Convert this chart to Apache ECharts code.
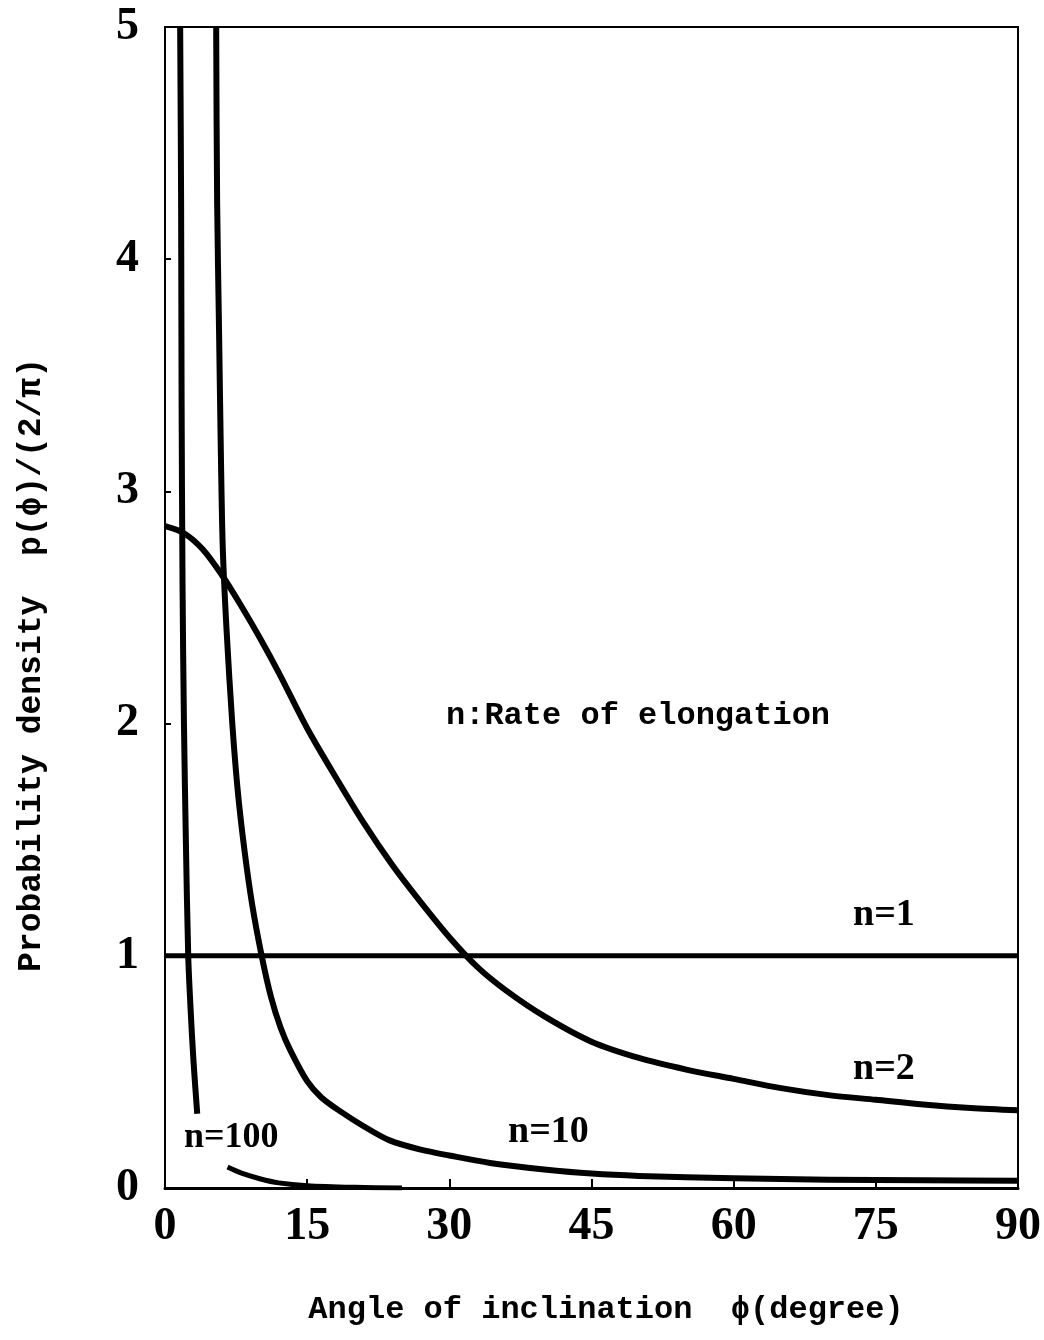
<!DOCTYPE html>
<html>
<head>
<meta charset="utf-8">
<title>Probability density of inclination angle</title>
<script src="https://cdn.jsdelivr.net/npm/echarts@6/dist/echarts.min.js"></script>
<style>
  html, body { margin: 0; padding: 0; background: #fff; }
  #chart { width: 1044px; height: 1340px; }
</style>
</head>
<body>
<div id="chart"></div>
<script>
// Angle of inclination (degree) and normalised density p(phi)/(2/pi) for each elongation rate n
var xTicks = [0, 15, 30, 45, 60, 75, 90];
var yTicks = [0, 1, 2, 3, 4, 5];

var phiN1 = [0, 90];
var valN1 = [1, 1];

var phiN2 = [0, 2, 4, 6, 8, 10, 12, 15, 18, 21, 24, 27, 30, 33, 36, 40, 45, 50, 55, 60, 65, 70, 75, 80, 85, 90];
var valN2 = [2.85, 2.82, 2.75, 2.64, 2.51, 2.37, 2.22, 1.98, 1.77, 1.57, 1.39, 1.23, 1.08, 0.95, 0.85, 0.74, 0.63, 0.56, 0.51, 0.47, 0.43, 0.40, 0.38, 0.36, 0.345, 0.335];

var phiN10 = [5.4, 5.5, 5.7, 5.9, 6.1, 6.5, 7.1, 7.7, 8.4, 9.2, 10.2, 11.2, 12.2, 13.2, 15, 16.5, 18.5, 21, 23.7, 27, 30, 34.3, 40, 45, 50, 60, 70, 80, 90];
var valN10 = [5.0, 4.25, 3.7, 3.15, 2.75, 2.4, 2.0, 1.7, 1.45, 1.22, 1.0, 0.82, 0.69, 0.595, 0.46, 0.39, 0.33, 0.265, 0.205, 0.165, 0.14, 0.108, 0.08, 0.062, 0.052, 0.042, 0.036, 0.033, 0.031];

// n=100 is drawn in two pieces, broken where its label sits
var phiN100a = [1.6, 1.7, 1.75, 1.85, 2.0, 2.2, 2.45, 2.7, 3.0, 3.4];
var valN100a = [5.0, 4.25, 3.4, 2.6, 2.0, 1.5, 1.0, 0.77, 0.55, 0.32];
var phiN100b = [6.6, 8, 10, 12, 15, 20, 25];
var valN100b = [0.09, 0.065, 0.04, 0.022, 0.01, 0.003, 0.0];

function pairs(xs, ys) {
  return xs.map(function (x, i) { return [x, ys[i]]; });
}

var labelFont = 'Liberation Serif';

function curve(name, xs, ys, width) {
  return {
    name: name,
    type: 'line',
    data: pairs(xs, ys),
    showSymbol: false,
    smooth: 0.3,
    clip: true,
    lineStyle: { color: '#000', width: width, cap: 'butt', join: 'round' },
    silent: true
  };
}

var chart = echarts.init(document.getElementById('chart'), null, { renderer: 'canvas' });

chart.setOption({
  animation: false,
  backgroundColor: '#fff',
  grid: {
    left: 165, right: 26, top: 27, bottom: 152,
    show: true, borderColor: '#000', borderWidth: 2, backgroundColor: 'transparent'
  },
  xAxis: {
    type: 'value', min: 0, max: 90, interval: 15,
    axisLine: { show: true, lineStyle: { color: '#000', width: 3 } },
    axisTick: { show: true, inside: true, length: 9, lineStyle: { color: '#000', width: 2 } },
    splitLine: { show: false },
    axisLabel: {
      margin: 16, color: '#000', fontFamily: labelFont, fontSize: 46, fontWeight: 'bold',
      formatter: function (v) { return xTicks.indexOf(v) >= 0 ? String(v) : ''; }
    }
  },
  yAxis: {
    type: 'value', min: 0, max: 5, interval: 1,
    axisLine: { show: true, lineStyle: { color: '#000', width: 2 } },
    axisTick: { show: true, inside: true, length: 6, lineStyle: { color: '#000', width: 2 } },
    splitLine: { show: false },
    axisLabel: {
      margin: 26, color: '#000', fontFamily: labelFont, fontSize: 46, fontWeight: 'bold',
      formatter: function (v) { return yTicks.indexOf(v) >= 0 ? String(v) : ''; }
    }
  },
  series: [
    curve('n=1', phiN1, valN1, 5),
    curve('n=2', phiN2, valN2, 6),
    curve('n=10', phiN10, valN10, 6),
    curve('n=100', phiN100a, valN100a, 6),
    curve('n=100', phiN100b, valN100b, 5)
  ],
  graphic: [
    { type: 'text', left: 446, top: 700,
      style: { text: 'n:Rate of elongation', font: 'bold 32px "Liberation Mono"', fill: '#000' } },
    { type: 'text', left: 853, top: 896,
      style: { text: 'n=1', font: 'bold 38px "Liberation Serif"', fill: '#000' } },
    { type: 'text', left: 853, top: 1050,
      style: { text: 'n=2', font: 'bold 38px "Liberation Serif"', fill: '#000' } },
    { type: 'text', left: 508, top: 1113,
      style: { text: 'n=10', font: 'bold 38px "Liberation Serif"', fill: '#000' } },
    { type: 'text', left: 184, top: 1120,
      style: { text: 'n=100', font: 'bold 36px "Liberation Serif"', fill: '#000' } },
    { type: 'text', x: 606, y: 1310,
      style: { text: 'Angle of inclination  \u03d5(degree)', font: 'bold 32px "Liberation Mono"',
               fill: '#000', align: 'center', verticalAlign: 'middle' } },
    { type: 'text', x: 32, y: 665, rotation: Math.PI / 2,
      style: { text: 'Probability density  p(\u03d5)/(2/\u03c0)', font: 'bold 33px "Liberation Mono"',
               fill: '#000', align: 'center', verticalAlign: 'middle' } }
  ]
});
</script>
</body>
</html>
